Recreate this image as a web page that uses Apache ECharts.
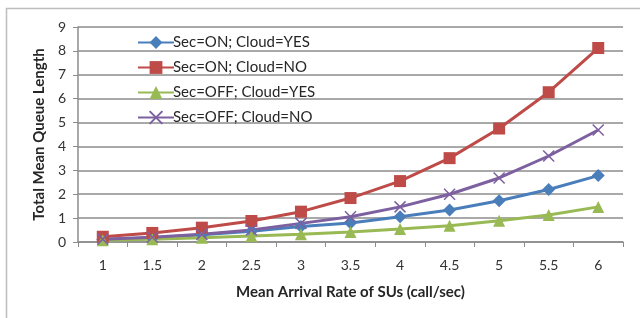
<!DOCTYPE html>
<html>
<head>
<meta charset="utf-8">
<script src="https://cdn.jsdelivr.net/npm/echarts@6/dist/echarts.min.js"></script>
<style>
html, body { margin: 0; padding: 0; background: #fff; }
#main { width: 640px; height: 318px; }
</style>
</head>
<body>
<div id="main"></div>
<script>
var myChart = echarts.init(document.getElementById('main'));

// arrival rates (call/sec)
var rates = ['1', '1.5', '2', '2.5', '3', '3.5', '4', '4.5', '5', '5.5', '6'];

var secOnCloudYes  = [0.10, 0.18, 0.30, 0.45, 0.65, 0.80, 1.06, 1.34, 1.73, 2.20, 2.78];
var secOnCloudNo   = [0.22, 0.38, 0.60, 0.88, 1.27, 1.84, 2.55, 3.51, 4.75, 6.27, 8.12];
var secOffCloudYes = [0.07, 0.12, 0.18, 0.25, 0.32, 0.42, 0.54, 0.68, 0.89, 1.13, 1.47];
var secOffCloudNo  = [0.12, 0.20, 0.32, 0.50, 0.78, 1.06, 1.47, 2.00, 2.68, 3.60, 4.69];

var names = ['Sec=ON; Cloud=YES', 'Sec=ON; Cloud=NO', 'Sec=OFF; Cloud=YES', 'Sec=OFF; Cloud=NO'];
var yTicks = [0, 9, 1];

var font = 'Lato';
var cross = 'path://M0,0L10,10M10,0L0,10';

function mk(name, data, color, symbol, size) {
    return {
        name: name,
        type: 'line',
        data: data,
        color: color,
        symbol: symbol,
        symbolSize: size,
        lineStyle: { width: 3, color: color },
        itemStyle: { color: color, borderColor: color, borderWidth: symbol === cross ? 1.5 : 0 },
        animation: false
    };
}

var option = {
    backgroundColor: '#fff',
    textStyle: { fontFamily: font },
    graphic: [{
        type: 'polyline',
        shape: { points: [[6.5, 330], [6.5, 8.5], [650, 8.5]] },
        style: { stroke: '#bdbdbd', lineWidth: 1.5, fill: null }
    }],
    legend: {
        orient: 'vertical',
        left: 132,
        top: 30,
        itemGap: 10,
        itemWidth: 36,
        itemHeight: 16,
        textStyle: { fontSize: 15, color: '#262626', fontFamily: font, padding: [0, 0, 0, -6] },
        data: names
    },
    grid: {
        left: 78,
        right: 17,
        top: 27,
        bottom: 76,
        containLabel: false
    },
    xAxis: {
        type: 'category',
        data: rates,
        boundaryGap: true,
        name: 'Mean Arrival Rate of SUs (call/sec)',
        nameLocation: 'middle',
        nameGap: 43,
        nameTextStyle: { fontSize: 15, fontWeight: 'bold', color: '#262626', fontFamily: font },
        axisLine: { lineStyle: { color: '#8c8c8c', width: 1.5 } },
        axisTick: { show: true, alignWithLabel: false, length: 5, lineStyle: { color: '#8c8c8c' } },
        axisLabel: { fontSize: 14, color: '#333', margin: 16, fontFamily: font }
    },
    yAxis: {
        type: 'value',
        min: yTicks[0],
        max: yTicks[1],
        interval: yTicks[2],
        name: 'Total Mean Queue Length',
        nameLocation: 'middle',
        nameGap: 30,
        nameRotate: 90,
        nameTextStyle: { fontSize: 15, fontWeight: 'bold', color: '#262626', fontFamily: font },
        axisLine: { show: true, lineStyle: { color: '#8c8c8c', width: 1.5 } },
        axisTick: { show: true, length: 5, lineStyle: { color: '#8c8c8c' } },
        axisLabel: { fontSize: 14, color: '#333', margin: 12, fontFamily: font },
        splitLine: { lineStyle: { color: '#8c8c8c', width: 1.5 } }
    },
    series: [
        mk(names[0], secOnCloudYes, '#4a7ebb', 'diamond', 13),
        mk(names[1], secOnCloudNo, '#be4b48', 'rect', 12),
        mk(names[2], secOffCloudYes, '#98b954', 'triangle', 12),
        mk(names[3], secOffCloudNo, '#7d60a0', cross, 11)
    ]
};
myChart.setOption(option);
</script>
</body>
</html>
